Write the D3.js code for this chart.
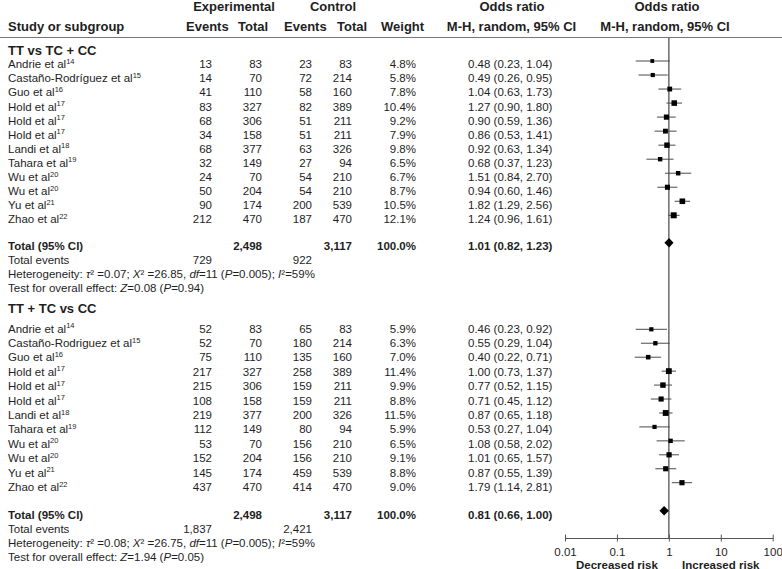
<!DOCTYPE html>
<html>
<head>
<meta charset="utf-8">
<script src="https://cdn.jsdelivr.net/npm/d3@7"></script>
<style>
  body { margin: 0; background: #fff; }
  svg text { font-family: "Liberation Sans", Arial, sans-serif; font-size: 11.5px; fill: #1e1e1e; }
  .hdr { font-weight: bold; font-size: 13px; }
  .grp { font-weight: bold; font-size: 13px; }
  .bold { font-weight: bold; }
  .sup { font-size: 7.5px; }
</style>
</head>
<body>
<div id="chart"></div>
<script>
// ---- data: TT vs TC + CC
var g1Names = ["Andrie et al", "Castaño-Rodríguez et al", "Guo et al", "Hold et al", "Hold et al", "Hold et al",
               "Landi et al", "Tahara et al", "Wu et al", "Wu et al", "Yu et al", "Zhao et al"];
var g1Refs = ["14", "15", "16", "17", "17", "17", "18", "19", "20", "20", "21", "22"];
var g1ExpEvents = [13, 14, 41, 83, 68, 34, 68, 32, 24, 50, 90, 212];
var g1ExpTotal = [83, 70, 110, 327, 306, 158, 377, 149, 70, 204, 174, 470];
var g1CtlEvents = [23, 72, 58, 82, 51, 51, 63, 27, 54, 54, 200, 187];
var g1CtlTotal = [83, 214, 160, 389, 211, 211, 326, 94, 210, 210, 539, 470];
var g1Weight = [4.8, 5.8, 7.8, 10.4, 9.2, 7.9, 9.8, 6.5, 6.7, 8.7, 10.5, 12.1];
var g1OR = [0.48, 0.49, 1.04, 1.27, 0.90, 0.86, 0.92, 0.68, 1.51, 0.94, 1.82, 1.24];
var g1Lo = [0.23, 0.26, 0.63, 0.90, 0.59, 0.53, 0.63, 0.37, 0.84, 0.60, 1.29, 0.96];
var g1Hi = [1.04, 0.95, 1.73, 1.80, 1.36, 1.41, 1.34, 1.23, 2.70, 1.46, 2.56, 1.61];
var g1Total = [2498, 3117, 100.0];          // exp total, ctl total, weight
var g1TotalEvents = [729, 922];
var g1Summary = [1.01, 0.82, 1.23];         // OR, lower, upper
var g1Het = ["0.07", "26.85", "11", "0.005", "59"];  // tau2, chi2, df, P, I2
var g1Test = ["0.08", "0.94"];              // Z, P

// ---- data: TT + TC vs CC
var g2Names = ["Andrie et al", "Castaño-Rodriguez et al", "Guo et al", "Hold et al", "Hold et al", "Hold et al",
               "Landi et al", "Tahara et al", "Wu et al", "Wu et al", "Yu et al", "Zhao et al"];
var g2Refs = ["14", "15", "16", "17", "17", "17", "18", "19", "20", "20", "21", "22"];
var g2ExpEvents = [52, 52, 75, 217, 215, 108, 219, 112, 53, 152, 145, 437];
var g2ExpTotal = [83, 70, 110, 327, 306, 158, 377, 149, 70, 204, 174, 470];
var g2CtlEvents = [65, 180, 135, 258, 159, 159, 200, 80, 156, 156, 459, 414];
var g2CtlTotal = [83, 214, 160, 389, 211, 211, 326, 94, 210, 210, 539, 470];
var g2Weight = [5.9, 6.3, 7.0, 11.4, 9.9, 8.8, 11.5, 5.9, 6.5, 9.1, 8.8, 9.0];
var g2OR = [0.46, 0.55, 0.40, 1.00, 0.77, 0.71, 0.87, 0.53, 1.08, 1.01, 0.87, 1.79];
var g2Lo = [0.23, 0.29, 0.22, 0.73, 0.52, 0.45, 0.65, 0.27, 0.58, 0.65, 0.55, 1.14];
var g2Hi = [0.92, 1.04, 0.71, 1.37, 1.15, 1.12, 1.18, 1.04, 2.02, 1.57, 1.39, 2.81];
var g2Total = [2498, 3117, 100.0];
var g2TotalEvents = [1837, 2421];
var g2Summary = [0.81, 0.66, 1.00];
var g2Het = ["0.08", "26.75", "11", "0.005", "59"];
var g2Test = ["1.94", "0.05"];

var axisTicks = [0.01, 0.1, 1, 10, 100];

(function (d3) {
  'use strict';

  var width = 782, height = 569;
  var svg = d3.select('#chart').append('svg')
    .attr('width', width).attr('height', height);

  var x = d3.scaleLog().domain([0.01, 100]).range([565, 772.7]);
  var boxSide = d3.scaleSqrt().domain([0, 12.1]).range([0, 6]);
  var fmt2 = d3.format('.2f'), fmt1 = d3.format('.1f'), fmtN = d3.format(',');

  // column anchors (right aligned numbers)
  var colExpEv = 212, colExpTot = 262, colCtlEv = 312, colCtlTot = 352, colW = 416, colOR = 468;
  var lineY = 37.5, axisY = 538;

  // ---- header
  var hdr = [
    { t: 'Experimental', x: 234, y: 11, a: 'middle' },
    { t: 'Control', x: 333, y: 11, a: 'middle' },
    { t: 'Odds ratio', x: 512, y: 11, a: 'middle' },
    { t: 'Odds ratio', x: 667, y: 11, a: 'middle' },
    { t: 'Study or subgroup', x: 8, y: 31, a: 'start' },
    { t: 'Events', x: 186, y: 31, a: 'start' },
    { t: 'Total', x: 238, y: 31, a: 'start' },
    { t: 'Events', x: 284, y: 31, a: 'start' },
    { t: 'Total', x: 337, y: 31, a: 'start' },
    { t: 'Weight', x: 381, y: 31, a: 'start' },
    { t: 'M-H, random, 95% CI', x: 511.5, y: 31, a: 'middle' },
    { t: 'M-H, random, 95% CI', x: 665, y: 31, a: 'middle' }
  ];
  svg.selectAll('.hdr').data(hdr).enter().append('text')
    .attr('class', 'hdr')
    .attr('x', function (d) { return d.x; })
    .attr('y', function (d) { return d.y; })
    .attr('text-anchor', function (d) { return d.a; })
    .text(function (d) { return d.t; });

  svg.append('line')
    .attr('x1', 0).attr('x2', width).attr('y1', lineY).attr('y2', lineY)
    .attr('stroke', '#777').attr('stroke-width', 1);

  // null line at OR = 1
  svg.append('line')
    .attr('x1', x(1)).attr('x2', x(1)).attr('y1', lineY).attr('y2', axisY)
    .attr('stroke', '#6b6b6b').attr('stroke-width', 1.5);

  function drawGroup(title, grp, lay) {
    var g = svg.append('g');
    var n = grp.names.length;
    var rowY = d3.scaleLinear().domain([0, n - 1]).range(lay.text);
    var markY = d3.scaleLinear().domain([0, n - 1]).range(lay.marks);

    g.append('text').attr('class', 'grp').attr('x', 8).attr('y', lay.title).text(title);

    var rows = grp.names.map(function (nm, i) {
      return { name: nm, ref: grp.refs[i], ee: grp.expEvents[i], et: grp.expTotal[i],
               ce: grp.ctlEvents[i], ct: grp.ctlTotal[i], w: grp.weight[i],
               or: grp.or[i], lo: grp.lo[i], hi: grp.hi[i], i: i };
    });

    var r = g.selectAll('.row').data(rows).enter().append('g').attr('class', 'row');

    var lab = r.append('text').attr('x', 8).attr('y', function (d) { return rowY(d.i); });
    lab.append('tspan').text(function (d) { return d.name; });
    lab.append('tspan').attr('class', 'sup').attr('dy', -4.5).text(function (d) { return d.ref; });

    var cols = [
      { x: colExpEv, f: function (d) { return d.ee; } },
      { x: colExpTot, f: function (d) { return d.et; } },
      { x: colCtlEv, f: function (d) { return d.ce; } },
      { x: colCtlTot, f: function (d) { return d.ct; } },
      { x: colW, f: function (d) { return fmt1(d.w) + '%'; } }
    ];
    cols.forEach(function (c) {
      r.append('text').attr('x', c.x).attr('y', function (d) { return rowY(d.i); })
        .attr('text-anchor', 'end').text(c.f);
    });
    r.append('text').attr('x', colOR).attr('y', function (d) { return rowY(d.i); })
      .text(function (d) { return fmt2(d.or) + ' (' + fmt2(d.lo) + ', ' + fmt2(d.hi) + ')'; });

    // CI whiskers and weight boxes
    r.append('line')
      .attr('x1', function (d) { return x(d.lo); })
      .attr('x2', function (d) { return x(d.hi); })
      .attr('y1', function (d) { return markY(d.i); })
      .attr('y2', function (d) { return markY(d.i); })
      .attr('stroke', '#4a4a4a').attr('stroke-width', 1);
    r.append('rect')
      .attr('x', function (d) { return x(d.or) - boxSide(d.w) / 2; })
      .attr('y', function (d) { return markY(d.i) - boxSide(d.w) / 2; })
      .attr('width', function (d) { return boxSide(d.w); })
      .attr('height', function (d) { return boxSide(d.w); })
      .attr('fill', '#000');

    // total row
    var ty = lay.total;
    g.append('text').attr('class', 'bold').attr('x', 8).attr('y', ty).text('Total (95% CI)');
    g.append('text').attr('class', 'bold').attr('x', colExpTot).attr('y', ty).attr('text-anchor', 'end').text(fmtN(grp.total[0]));
    g.append('text').attr('class', 'bold').attr('x', colCtlTot).attr('y', ty).attr('text-anchor', 'end').text(fmtN(grp.total[1]));
    g.append('text').attr('class', 'bold').attr('x', colW).attr('y', ty).attr('text-anchor', 'end').text(fmt1(grp.total[2]) + '%');
    g.append('text').attr('class', 'bold').attr('x', colOR).attr('y', ty)
      .text(fmt2(grp.summary[0]) + ' (' + fmt2(grp.summary[1]) + ', ' + fmt2(grp.summary[2]) + ')');

    var dy = lay.diamond, dh = 4.8;
    g.append('path')
      .attr('d', 'M' + x(grp.summary[1]) + ',' + dy + 'L' + x(grp.summary[0]) + ',' + (dy - dh) +
                 'L' + x(grp.summary[2]) + ',' + dy + 'L' + x(grp.summary[0]) + ',' + (dy + dh) + 'Z')
      .attr('fill', '#000');

    // total events
    g.append('text').attr('x', 8).attr('y', lay.events).text('Total events');
    g.append('text').attr('x', colExpEv).attr('y', lay.events).attr('text-anchor', 'end').text(fmtN(grp.totalEvents[0]));
    g.append('text').attr('x', colCtlEv).attr('y', lay.events).attr('text-anchor', 'end').text(fmtN(grp.totalEvents[1]));

    // heterogeneity
    var het = g.append('text').attr('x', 8).attr('y', lay.het);
    var parts = [
      ['Heterogeneity: ', false], ['τ', true], ['² =' + grp.het[0] + '; ', false],
      ['Χ', true], ['² =' + grp.het[1] + ', ', false], ['df', true], ['=' + grp.het[2] + ' (', false],
      ['P', true], ['=' + grp.het[3] + '); ', false], ['I', true], ['²=' + grp.het[4] + '%', false]
    ];
    parts.forEach(function (p) {
      het.append('tspan').attr('font-style', p[1] ? 'italic' : null).text(p[0]);
    });

    var tst = g.append('text').attr('x', 8).attr('y', lay.test);
    [['Test for overall effect: ', false], ['Z', true], ['=' + grp.test[0] + ' (', false],
     ['P', true], ['=' + grp.test[1] + ')', false]].forEach(function (p) {
      tst.append('tspan').attr('font-style', p[1] ? 'italic' : null).text(p[0]);
    });
  }

  drawGroup('TT vs TC + CC', {
    names: g1Names, refs: g1Refs, expEvents: g1ExpEvents, expTotal: g1ExpTotal,
    ctlEvents: g1CtlEvents, ctlTotal: g1CtlTotal, weight: g1Weight, or: g1OR, lo: g1Lo, hi: g1Hi,
    total: g1Total, totalEvents: g1TotalEvents, summary: g1Summary, het: g1Het, test: g1Test
  }, { title: 55, text: [68.3, 223.3], marks: [61, 215.3], total: 250, diamond: 242.7,
       events: 263.6, het: 277.6, test: 292.3 });

  drawGroup('TT + TC vs CC', {
    names: g2Names, refs: g2Refs, expEvents: g2ExpEvents, expTotal: g2ExpTotal,
    ctlEvents: g2CtlEvents, ctlTotal: g2CtlTotal, weight: g2Weight, or: g2OR, lo: g2Lo, hi: g2Hi,
    total: g2Total, totalEvents: g2TotalEvents, summary: g2Summary, het: g2Het, test: g2Test
  }, { title: 313, text: [332.6, 491], marks: [329.3, 482.7], total: 519.3, diamond: 510.7,
       events: 532.6, het: 547, test: 561 });

  // ---- log axis
  var axis = d3.axisBottom(x).tickValues(axisTicks).tickSizeInner(3.5).tickSizeOuter(0)
    .tickFormat(function (d) { return String(d); });
  var ax = svg.append('g').attr('transform', 'translate(0,' + axisY + ')')
    .style('color', '#555').call(axis);
  ax.attr('font-size', null).attr('font-family', null);
  ax.selectAll('.tick line').attr('y1', -3.5).attr('y2', 3.5);
  ax.selectAll('.tick text').attr('y', 10).style('fill', '#1e1e1e');

  svg.append('text').attr('class', 'bold').attr('x', x(0.1)).attr('y', 568.5)
    .attr('text-anchor', 'middle').text('Decreased risk');
  svg.append('text').attr('class', 'bold').attr('x', x(10)).attr('y', 568.5)
    .attr('text-anchor', 'middle').text('Increased risk');
})(window.d3);
</script>
</body>
</html>
